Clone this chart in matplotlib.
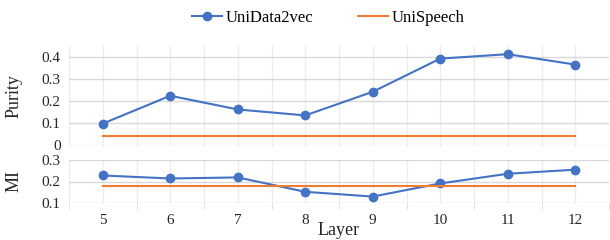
import numpy as np
import matplotlib.pyplot as plt
from matplotlib.ticker import FixedLocator, FuncFormatter

plt.rcParams['font.family'] = 'serif'
plt.rcParams['font.serif'] = ['Liberation Serif', 'DejaVu Serif']

layers = [5, 6, 7, 8, 9, 10, 11, 12]
purity_unidata2vec = [0.099, 0.225, 0.163, 0.136, 0.243, 0.393, 0.413, 0.366]
purity_unispeech = [0.043] * len(layers)
mi_unidata2vec = [0.228, 0.214, 0.219, 0.152, 0.130, 0.191, 0.236, 0.255]
mi_unispeech = [0.181] * len(layers)

BLUE = '#4472C4'
ORANGE = '#ED7D31'
TXT = '#262626'

fig = plt.figure(figsize=(6.1, 2.4), dpi=100)
ax1 = fig.add_axes([69 / 610, 1 - 145.5 / 240, 540 / 610, 99.5 / 240])
ax2 = fig.add_axes([69 / 610, 1 - 203 / 240, 540 / 610, 43 / 240])


def fmt(v, pos):
    return '0' if abs(v) < 1e-9 else f'{v:.1f}'


for ax, y1, y2, lo, hi, ticks in [
        (ax1, purity_unidata2vec, purity_unispeech, 0, 0.45, [0, 0.1, 0.2, 0.3, 0.4]),
        (ax2, mi_unidata2vec, mi_unispeech, 0.1, 0.3, [0.1, 0.2, 0.3])]:
    ax.plot(layers, y1, color=BLUE, lw=1.5, marker='o', ms=6, label='UniData2vec', zorder=3)
    ax.plot(layers, y2, color=ORANGE, lw=1.5, label='UniSpeech', zorder=3)
    ax.set_xlim(4.5, 12.5)
    ax.set_ylim(lo, hi)
    ax.yaxis.set_major_locator(FixedLocator(ticks))
    ax.yaxis.set_major_formatter(FuncFormatter(fmt))
    ax.xaxis.set_major_locator(FixedLocator(layers))
    ax.xaxis.set_minor_locator(FixedLocator(np.arange(4.5, 12.6, 1.0)))
    ax.grid(axis='y', color='#d9d9d9', lw=1.0, zorder=0)
    ax.grid(axis='x', which='both', color='#ececec', lw=1.0, zorder=0)
    for s in ax.spines.values():
        s.set_visible(False)
    ax.tick_params(axis='y', length=0, labelsize=11, colors=TXT, pad=6)
    ax.tick_params(axis='x', which='major', length=0, labelsize=11, colors=TXT, pad=8)
    ax.tick_params(axis='x', which='minor', length=4, color='#d9d9d9')

ax1.tick_params(axis='x', which='both', labelbottom=False, length=0)
ax1.set_ylabel('Purity', fontsize=13, color=TXT)
ax2.set_ylabel('MI', fontsize=13, color=TXT)
ax2.set_xlabel('Layer', fontsize=13, color=TXT, labelpad=-4)
ax1.yaxis.set_label_coords(-0.087, 0.5)
ax2.yaxis.set_label_coords(-0.087, 0.5)

fig.legend(*ax1.get_legend_handles_labels(), loc='center', bbox_to_anchor=(0.538, 0.925),
           ncol=2, frameon=False, fontsize=12, handlelength=1.8, columnspacing=2.7,
           handletextpad=0.2)

fig.savefig('out.png', dpi=100)
